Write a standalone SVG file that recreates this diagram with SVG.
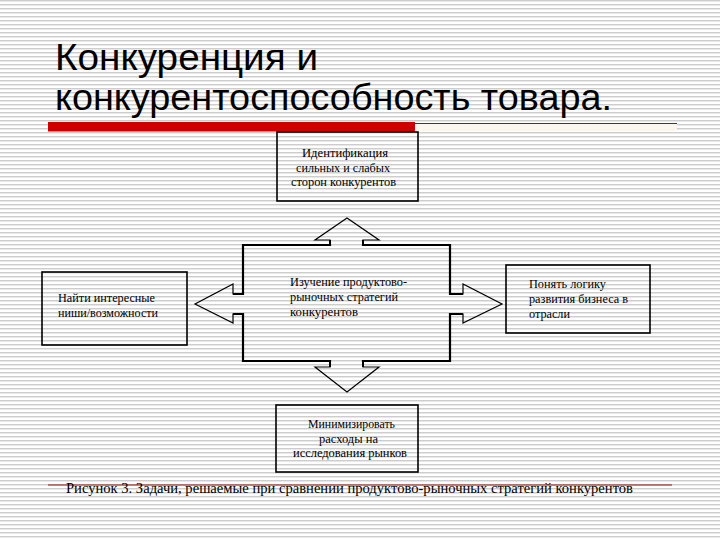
<svg xmlns="http://www.w3.org/2000/svg" width="720" height="540" viewBox="0 0 720 540">
  <defs>
    <pattern id="stripes" x="0" y="0" width="8" height="4" patternUnits="userSpaceOnUse">
      <rect x="0" y="0" width="8" height="4" fill="#ffffff"/>
      <rect x="0" y="0" width="8" height="1" fill="#cdcdcd"/>
      <rect x="0" y="1" width="8" height="1" fill="#e8e8e8"/>
    </pattern>
    <style>
      .title { font-family: "Liberation Sans", Arial, sans-serif; font-size: 37px; fill: #000; }
      .lbl { font-family: "Liberation Serif", "Times New Roman", serif; font-size: 12px; fill: #000; }
      .cap { font-family: "Liberation Serif", "Times New Roman", serif; font-size: 14px; fill: #000; }
      .box { fill: none; stroke: #000; stroke-width: 1.6; }
      .body { fill: none; stroke: #000; stroke-width: 2.2; stroke-linecap: square; }
      .arrow { fill: none; stroke: #000; stroke-width: 1.2; stroke-linejoin: miter; }
      .shaft { fill: none; stroke: #000; stroke-width: 2; }
    </style>
  </defs>

  <rect x="0" y="0" width="720" height="540" fill="url(#stripes)"/>

  <g id="title">
    <text class="title" x="55" y="70" textLength="263" lengthAdjust="spacingAndGlyphs">Конкуренция и</text>
    <text class="title" x="55" y="110" textLength="557" lengthAdjust="spacingAndGlyphs">конкурентоспособность товара.</text>
  </g>

  <g id="header-rule">
    <rect x="415" y="124" width="262" height="7" fill="#fbf6ec"/>
    <line x1="415" y1="123.5" x2="677" y2="123.5" stroke="#9b1010" stroke-width="1"/>
    <rect x="48" y="122" width="367" height="9.5" fill="#cc0000"/>
  </g>

  <g id="connectors">
    <polyline class="arrow" points="330,245 330,240 315,240 347,218 379,240 363,240 363,245"/>
    <polyline class="arrow" points="450,294 463,294 463,284 502,304 463,323 463,314 450,314"/>
    <polyline class="arrow" points="363,361 363,367 379,367 347,392 315,367 330,367 330,361"/>
    <polyline class="arrow" points="243,314 233,314 233,323 195,304 233,284 233,294 243,294"/>
    <g class="shaft">
      <line x1="330" y1="245" x2="330" y2="240"/><line x1="363" y1="245" x2="363" y2="240"/>
      <line x1="463" y1="294" x2="450" y2="294"/><line x1="463" y1="314" x2="450" y2="314"/>
      <line x1="330" y1="361" x2="330" y2="367"/><line x1="363" y1="361" x2="363" y2="367"/>
      <line x1="233" y1="294" x2="243" y2="294"/><line x1="233" y1="314" x2="243" y2="314"/>
    </g>
  </g>

  <g id="node-center">
    <path class="body" d="M243,245 H330 M363,245 H450 V294 M450,314 V361 H363 M330,361 H243 V314 M243,294 V245"/>
    <text class="lbl" x="290" y="286" textLength="117" lengthAdjust="spacingAndGlyphs">Изучение продуктово-</text>
    <text class="lbl" x="290" y="301" textLength="108" lengthAdjust="spacingAndGlyphs">рыночных стратегий</text>
    <text class="lbl" x="290" y="316" textLength="68" lengthAdjust="spacingAndGlyphs">конкурентов</text>
  </g>

  <g id="node-top">
    <rect class="box" x="277" y="132" width="141" height="69"/>
    <text class="lbl" x="302" y="157" textLength="86" lengthAdjust="spacingAndGlyphs">Идентификация</text>
    <text class="lbl" x="296" y="172" textLength="94" lengthAdjust="spacingAndGlyphs">сильных и слабых</text>
    <text class="lbl" x="291" y="186" textLength="105" lengthAdjust="spacingAndGlyphs">сторон конкурентов</text>
  </g>

  <g id="node-left">
    <rect class="box" x="42" y="272" width="145" height="73"/>
    <text class="lbl" x="58" y="302" textLength="97" lengthAdjust="spacingAndGlyphs">Найти интересные</text>
    <text class="lbl" x="58" y="317" textLength="100" lengthAdjust="spacingAndGlyphs">ниши/возможности</text>
  </g>

  <g id="node-right">
    <rect class="box" x="506" y="265" width="144" height="68"/>
    <text class="lbl" x="529" y="288" textLength="77" lengthAdjust="spacingAndGlyphs">Понять логику</text>
    <text class="lbl" x="529" y="303" textLength="99" lengthAdjust="spacingAndGlyphs">развития бизнеса в</text>
    <text class="lbl" x="529" y="318" textLength="41" lengthAdjust="spacingAndGlyphs">отрасли</text>
  </g>

  <g id="node-bottom">
    <rect class="box" x="276" y="405" width="142" height="67"/>
    <text class="lbl" x="308" y="428" textLength="87" lengthAdjust="spacingAndGlyphs">Минимизировать</text>
    <text class="lbl" x="319" y="443" textLength="59" lengthAdjust="spacingAndGlyphs">расходы на</text>
    <text class="lbl" x="293" y="457" textLength="114" lengthAdjust="spacingAndGlyphs">исследования рынков</text>
  </g>

  <g id="caption">
    <line x1="48" y1="485" x2="672" y2="485" stroke="#9b1010" stroke-width="1"/>
    <text class="cap" x="66" y="493" textLength="567" lengthAdjust="spacingAndGlyphs">Рисунок 3. Задачи, решаемые при сравнении продуктово-рыночных стратегий конкурентов</text>
  </g>
</svg>
